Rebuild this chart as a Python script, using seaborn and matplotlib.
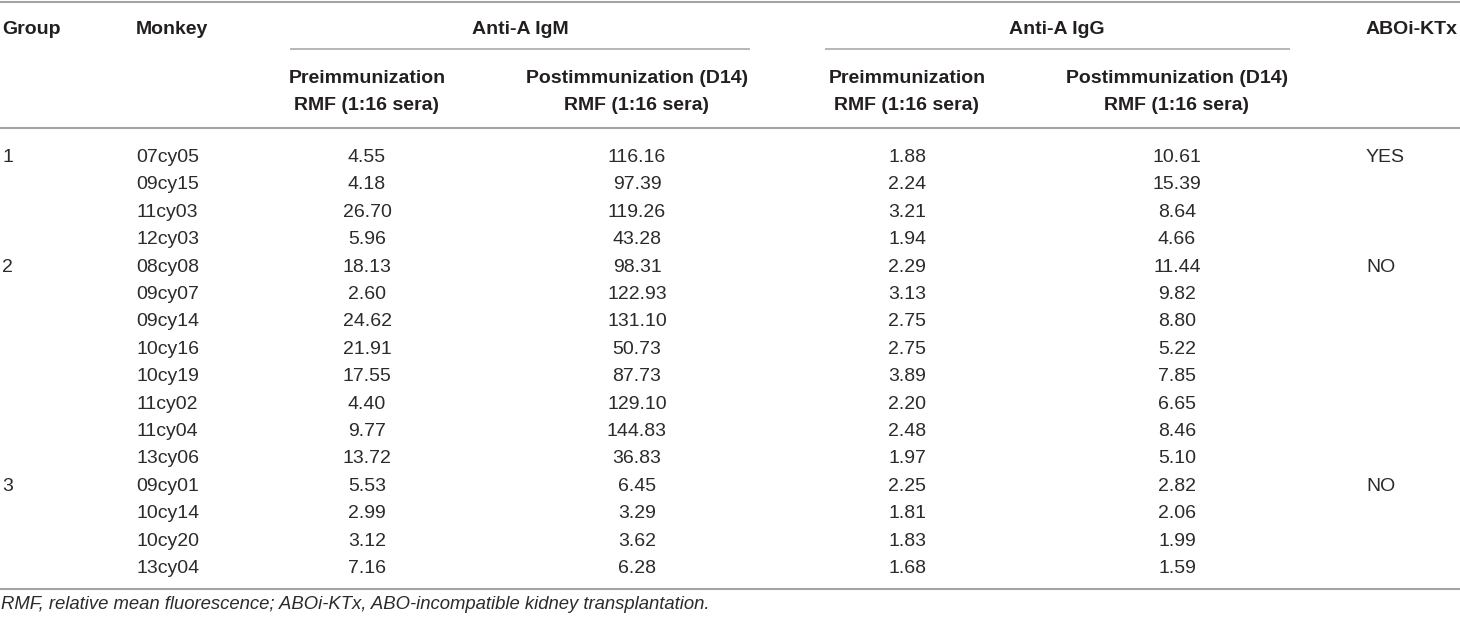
import matplotlib
matplotlib.use("Agg")
import matplotlib.pyplot as plt
import seaborn as sns

# Table values
groups = ["1", "", "", "", "2", "", "", "", "", "", "", "", "3", "", "", ""]
monkeys = ["07cy05", "09cy15", "11cy03", "12cy03", "08cy08", "09cy07", "09cy14", "10cy16",
           "10cy19", "11cy02", "11cy04", "13cy06", "09cy01", "10cy14", "10cy20", "13cy04"]
igm_pre = ["4.55", "4.18", "26.70", "5.96", "18.13", "2.60", "24.62", "21.91",
           "17.55", "4.40", "9.77", "13.72", "5.53", "2.99", "3.12", "7.16"]
igm_post = ["116.16", "97.39", "119.26", "43.28", "98.31", "122.93", "131.10", "50.73",
            "87.73", "129.10", "144.83", "36.83", "6.45", "3.29", "3.62", "6.28"]
igg_pre = ["1.88", "2.24", "3.21", "1.94", "2.29", "3.13", "2.75", "2.75",
           "3.89", "2.20", "2.48", "1.97", "2.25", "1.81", "1.83", "1.68"]
igg_post = ["10.61", "15.39", "8.64", "4.66", "11.44", "9.82", "8.80", "5.22",
            "7.85", "6.65", "8.46", "5.10", "2.82", "2.06", "1.99", "1.59"]
ktx = ["YES", "", "", "", "NO", "", "", "", "", "", "", "", "NO", "", "", ""]

top_headers = ["Group", "Monkey", "Anti-A IgM", "Anti-A IgG", "ABOi-KTx"]
sub_pre = ["Preimmunization", "RMF (1:16 sera)"]
sub_post = ["Postimmunization (D14)", "RMF (1:16 sera)"]
footnote = "RMF, relative mean fluorescence; ABOi-KTx, ABO-incompatible kidney transplantation."

sns.set_style("white")
plt.rcParams["font.family"] = ["Liberation Sans", "DejaVu Sans"]

fig = plt.figure(figsize=(14.6, 6.2), dpi=100)
ax = fig.add_axes([0, 0, 1, 1])
ax.set_xlim(0, 1460)
ax.set_ylim(620, 0)
ax.axis("off")

txt = "#231f20"
body_c = "#2b2b2b"
line_c = "#a3a3a3"
fs = 14

# rules
ax.hlines([1.5, 128, 588.5], 0, 1460, color=line_c, lw=1.5)
ax.hlines(49, 290, 750, color=line_c, lw=1.1)
ax.hlines(49, 825, 1290, color=line_c, lw=1.1)

# header row
hy = 34
ax.text(2, hy, top_headers[0], ha="left", va="baseline", fontsize=fs, fontweight="bold", color=txt)
ax.text(136, hy, top_headers[1], ha="left", va="baseline", fontsize=fs, fontweight="bold", color=txt)
ax.text(520, hy, top_headers[2], ha="center", va="baseline", fontsize=fs, fontweight="bold", color=txt)
ax.text(1057, hy, top_headers[3], ha="center", va="baseline", fontsize=fs, fontweight="bold", color=txt)
ax.text(1366, hy, top_headers[4], ha="left", va="baseline", fontsize=fs, fontweight="bold", color=txt)

col_x = [367, 637, 907, 1177]
for x, lab in zip(col_x, [sub_pre, sub_post, sub_pre, sub_post]):
    ax.text(x, 83, lab[0], ha="center", va="baseline", fontsize=fs, fontweight="bold", color=txt)
    ax.text(x, 110, lab[1], ha="center", va="baseline", fontsize=fs, fontweight="bold", color=txt)

# body
y0, dy = 162, 27.4
for i in range(len(monkeys)):
    y = y0 + i * dy
    ax.text(2, y, groups[i], ha="left", va="baseline", fontsize=fs, color=body_c)
    ax.text(136, y, monkeys[i], ha="left", va="baseline", fontsize=fs, color=body_c)
    for x, col in zip(col_x, [igm_pre, igm_post, igg_pre, igg_post]):
        ax.text(x, y, col[i], ha="center", va="baseline", fontsize=fs, color=body_c)
    ax.text(1366, y, ktx[i], ha="left", va="baseline", fontsize=fs, color=body_c)

ax.text(1, 609, footnote, ha="left", va="baseline", fontsize=13.3, style="italic", color=body_c)

fig.savefig("out.png", dpi=100)
